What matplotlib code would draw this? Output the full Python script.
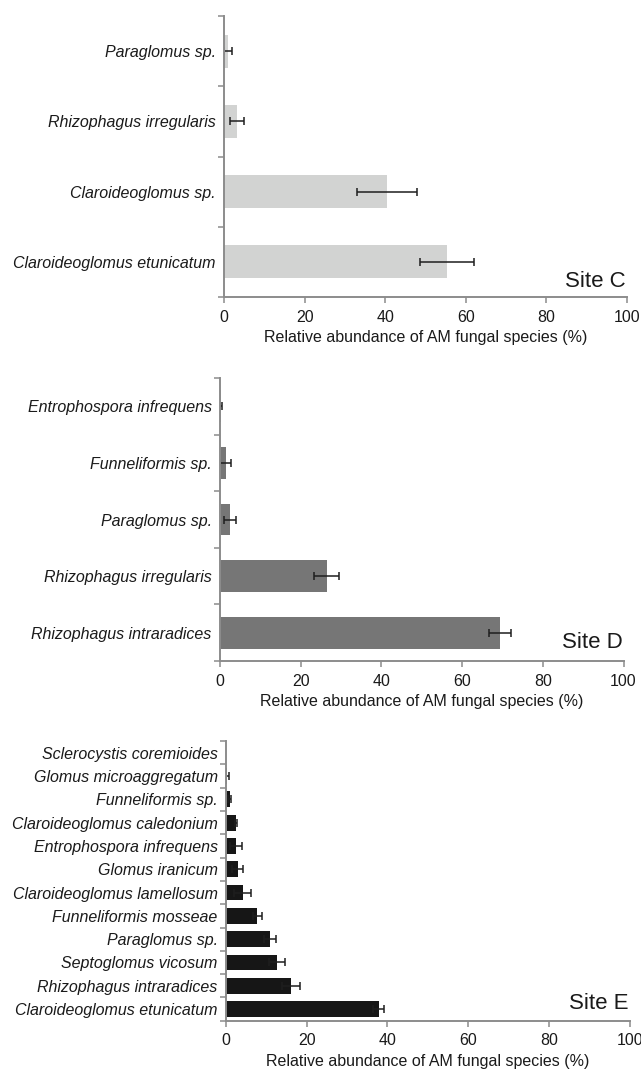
import matplotlib.pyplot as plt
import numpy as np

# site C (listed bottom to top)
site_c_species = ["Claroideoglomus etunicatum", "Claroideoglomus sp.",
                  "Rhizophagus irregularis", "Paraglomus sp."]
site_c_mean = [55.3, 40.5, 3.2, 1.1]
site_c_err = [6.7, 7.4, 1.8, 1.0]

# site D
site_d_species = ["Rhizophagus intraradices", "Rhizophagus irregularis",
                  "Paraglomus sp.", "Funneliformis sp.", "Entrophospora infrequens"]
site_d_mean = [69.3, 26.5, 2.4, 1.4, 0.2]
site_d_err = [2.7, 3.1, 1.5, 1.3, 0.3]

# site E
site_e_species = ["Claroideoglomus etunicatum", "Rhizophagus intraradices",
                  "Septoglomus vicosum", "Paraglomus sp.", "Funneliformis mosseae",
                  "Claroideoglomus lamellosum", "Glomus iranicum",
                  "Entrophospora infrequens", "Claroideoglomus caledonium",
                  "Funneliformis sp.", "Glomus microaggregatum",
                  "Sclerocystis coremioides"]
site_e_mean = [37.8, 16.1, 12.6, 10.9, 7.7, 4.1, 2.9, 2.5, 2.5, 0.9, 0.3, 0.0]
site_e_err = [1.4, 2.2, 2.0, 1.6, 1.1, 2.0, 1.3, 1.4, 0.2, 0.4, 0.5, 0.0]

x_ticks = [0, 20, 40, 60, 80, 100]
x_label = "Relative abundance of AM fungal species (%)"

spine_col = "#8c8c8c"
text_col = "#1a1a1a"


def draw_panel(ax, species, mean, err, colour, bar_h, site, site_y):
    y = np.arange(len(species))
    ax.barh(y, mean, height=bar_h, color=colour)
    mean = np.array(mean)
    err = np.array(err)
    keep = err > 0
    ax.errorbar(mean[keep], y[keep], xerr=err[keep], fmt="none",
                ecolor="#1e1e1e", elinewidth=1.1, capsize=3.2, capthick=1.1)

    ax.set_xlim(0, 100)
    ax.set_ylim(-0.5, len(species) - 0.5)
    ax.set_xticks(x_ticks)
    ax.set_yticks(y)
    ax.set_yticklabels(species, fontstyle="italic", fontsize=11.5)
    ax.set_yticks(np.arange(len(species) + 1) - 0.5, minor=True)
    ax.tick_params(axis="y", which="major", length=0, pad=6, labelcolor=text_col)
    ax.tick_params(axis="y", which="minor", length=4, width=1.1, color=spine_col)
    ax.tick_params(axis="x", length=4, width=1.1, color=spine_col,
                   labelsize=11.5, pad=5, labelcolor=text_col)
    ax.set_xlabel(x_label, fontsize=11.5, labelpad=4, color=text_col)

    for s in ["top", "right"]:
        ax.spines[s].set_visible(False)
    for s in ["left", "bottom"]:
        ax.spines[s].set_color(spine_col)
        ax.spines[s].set_linewidth(1.4)

    ax.text(0.998, site_y, site, transform=ax.transAxes, ha="right",
            va="center", fontsize=16, color=text_col)


def main():
    plt.rcParams["font.family"] = ["Liberation Sans", "DejaVu Sans"]
    fig = plt.figure(figsize=(6.41, 10.70), dpi=100)

    ax_c = fig.add_axes([0.3495, 0.7224, 0.6282, 0.2626])
    ax_d = fig.add_axes([0.3432, 0.3822, 0.6295, 0.2645])
    ax_e = fig.add_axes([0.3526, 0.0460, 0.6296, 0.2615])

    draw_panel(ax_c, site_c_species, site_c_mean, site_c_err, "#d2d3d2",
               0.47, "Site C", 0.055)
    draw_panel(ax_d, site_d_species, site_d_mean, site_d_err, "#767676",
               0.56, "Site D", 0.064)
    draw_panel(ax_e, site_e_species, site_e_mean, site_e_err, "#161616",
               0.68, "Site E", 0.06)

    fig.savefig("out.png", dpi=100)


main()
